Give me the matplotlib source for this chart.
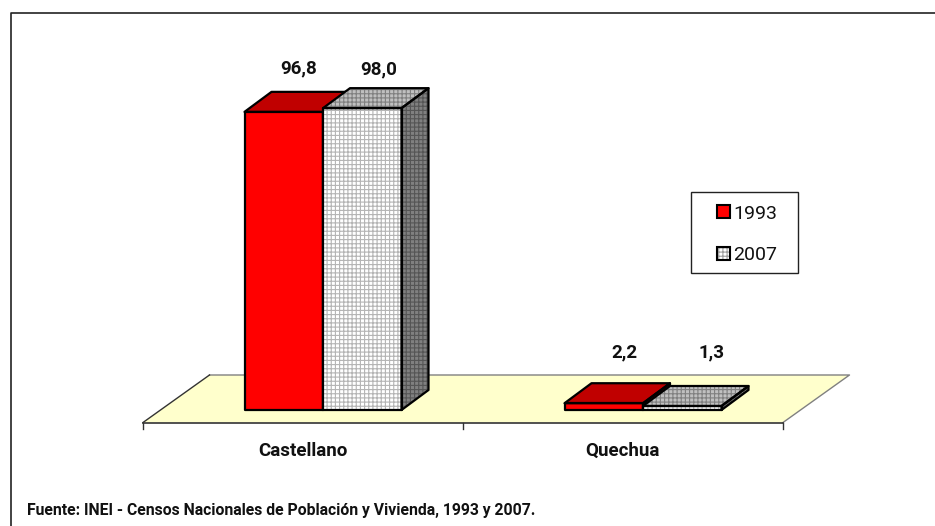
import matplotlib
matplotlib.use("Agg")
import matplotlib.pyplot as plt
from matplotlib.patches import Polygon, Rectangle

categories = ["Castellano", "Quechua"]
years = ["1993", "2007"]
values_1993 = [96.8, 2.2]
values_2007 = [98.0, 1.3]
labels_1993 = ["96,8", "2,2"]
labels_2007 = ["98,0", "1,3"]
source = "Fuente: INEI - Censos Nacionales de Población y Vivienda, 1993 y 2007."

W, H = 935, 526
CAT_PX = 320.0    # width of one category in pixels
UNIT_PX = 3.08    # pixels per percentage point
X0_PX, Y0_PX = 143.0, 410.0

plt.rcParams["font.family"] = ["Roboto", "Liberation Sans", "DejaVu Sans"]
plt.rcParams["hatch.linewidth"] = 0.8

fig = plt.figure(figsize=(W / 100, H / 100), dpi=100, facecolor="white")
ax = fig.add_axes([0, 0, 1, 1])
# x in categories, y in percent, with the plot origin at the front of the bars
ax.set_xlim(-X0_PX / CAT_PX, (W - X0_PX) / CAT_PX)
ax.set_ylim((Y0_PX - H) / UNIT_PX, Y0_PX / UNIT_PX)
ax.axis("off")

px = 1 / CAT_PX
py = 1 / UNIT_PX
depth_x = 27 * px
depth_y = 20 * py
bar_w = 78.5 * px
shift = 20 * px   # bars sit toward the middle of the floor


def xp(v):
    return (v - X0_PX) * px


def yp(v):
    return (Y0_PX - v) * py


# outer frame, only top and left are drawn
ax.plot([xp(10.5), xp(10.5), xp(935)], [yp(526), yp(12.5), yp(12.5)], color="#222222", lw=1.2, zorder=1)

# floor
floor_front = -12.5 * py
floor_dx = 66.5 * px
floor_dy = 47.5 * py
ax.add_patch(Polygon([(0, floor_front), (2, floor_front),
                      (2 + floor_dx, floor_front + floor_dy),
                      (floor_dx, floor_front + floor_dy)],
                     fc="#ffffcc", ec="none", zorder=1))
ax.plot([2, 2 + floor_dx, floor_dx], [floor_front, floor_front + floor_dy,
        floor_front + floor_dy], color="#808080", lw=1.0, zorder=1.5)
ax.plot([0, floor_dx], [floor_front, floor_front + floor_dy], color="#333333", lw=1.0, zorder=1.5)
ax.plot([0, 2], [floor_front, floor_front], color="#333333", lw=1.2, zorder=2)
for i in range(3):
    ax.plot([i, i], [floor_front, floor_front - 6.5 * py], color="#333333", lw=1.0, zorder=2)


def bar3d(x, v, front, top, side, hatch=None, hatch_col=None, z=3):
    faces = [
        ([(x, 0), (x + bar_w, 0), (x + bar_w, v), (x, v)], front, hatch_col[0] if hatch else None),
        ([(x, v), (x + bar_w, v), (x + bar_w + depth_x, v + depth_y), (x + depth_x, v + depth_y)],
         top, hatch_col[1] if hatch else None),
        ([(x + bar_w, 0), (x + bar_w + depth_x, depth_y), (x + bar_w + depth_x, v + depth_y), (x + bar_w, v)],
         side, hatch_col[2] if hatch else None),
    ]
    for pts, fc, hc in faces:
        if hatch:
            ax.add_patch(Polygon(pts, fc=fc, ec=hc, hatch=hatch, lw=0, zorder=z))
        else:
            ax.add_patch(Polygon(pts, fc=fc, ec="none", zorder=z))
        ax.add_patch(Polygon(pts, fc="none", ec="black", lw=1.6, joinstyle="round", zorder=z + 0.5))


# label offsets from bar top, they were placed by hand in the original
label_dx = [[15, 16], [21, 29]]
label_dy = [[43, 39], [51, 54]]
label_size = 13.5

grey_cols = ("#b4b4b4", "#808080", "#555555")
for i in range(len(categories)):
    c = i + 0.5 + shift
    bar3d(c - bar_w, values_1993[i], "#ff0000", "#c00000", "#800000", z=3 + i)
    bar3d(c, values_2007[i], "#ffffff", "#c0c0c0", "#808080", hatch="++++", hatch_col=grey_cols, z=3.7 + i)
    ax.text(c - bar_w / 2 + label_dx[i][0] * px, values_1993[i] + label_dy[i][0] * py, labels_1993[i],
            ha="center", va="center", fontsize=label_size, fontweight="bold", color="#111111", zorder=8)
    ax.text(c + bar_w / 2 + label_dx[i][1] * px, values_2007[i] + label_dy[i][1] * py, labels_2007[i],
            ha="center", va="center", fontsize=label_size, fontweight="bold", color="#111111", zorder=8)
    ax.text(c - 20.5 * px, -40.5 * py, categories[i], ha="center", va="center",
            fontsize=label_size, fontweight="bold", color="#111111", zorder=8)

# legend
ax.add_patch(Rectangle((xp(691), yp(273)), 107 * px, 81 * py, fc="white", ec="#222222", lw=1.0, zorder=9))
ax.add_patch(Rectangle((xp(717), yp(218)), 13 * px, 13 * py, fc="#ff0000", ec="black", lw=1.5, zorder=10))
ax.add_patch(Rectangle((xp(717), yp(260)), 13 * px, 13 * py, fc="white", ec="#a0a0a0", hatch="++++", lw=0, zorder=10))
ax.add_patch(Rectangle((xp(717), yp(260)), 13 * px, 13 * py, fc="none", ec="black", lw=1.5, zorder=10.5))
ax.text(xp(733.5), yp(214), years[0], ha="left", va="center", fontsize=14, color="#111111", zorder=10)
ax.text(xp(733.5), yp(255), years[1], ha="left", va="center", fontsize=14, color="#111111", zorder=10)

ax.text(xp(27), yp(510), source, ha="left", va="center",
        fontsize=11.35, fontweight="bold", color="#111111", zorder=8)

fig.savefig("out.png", dpi=100)
